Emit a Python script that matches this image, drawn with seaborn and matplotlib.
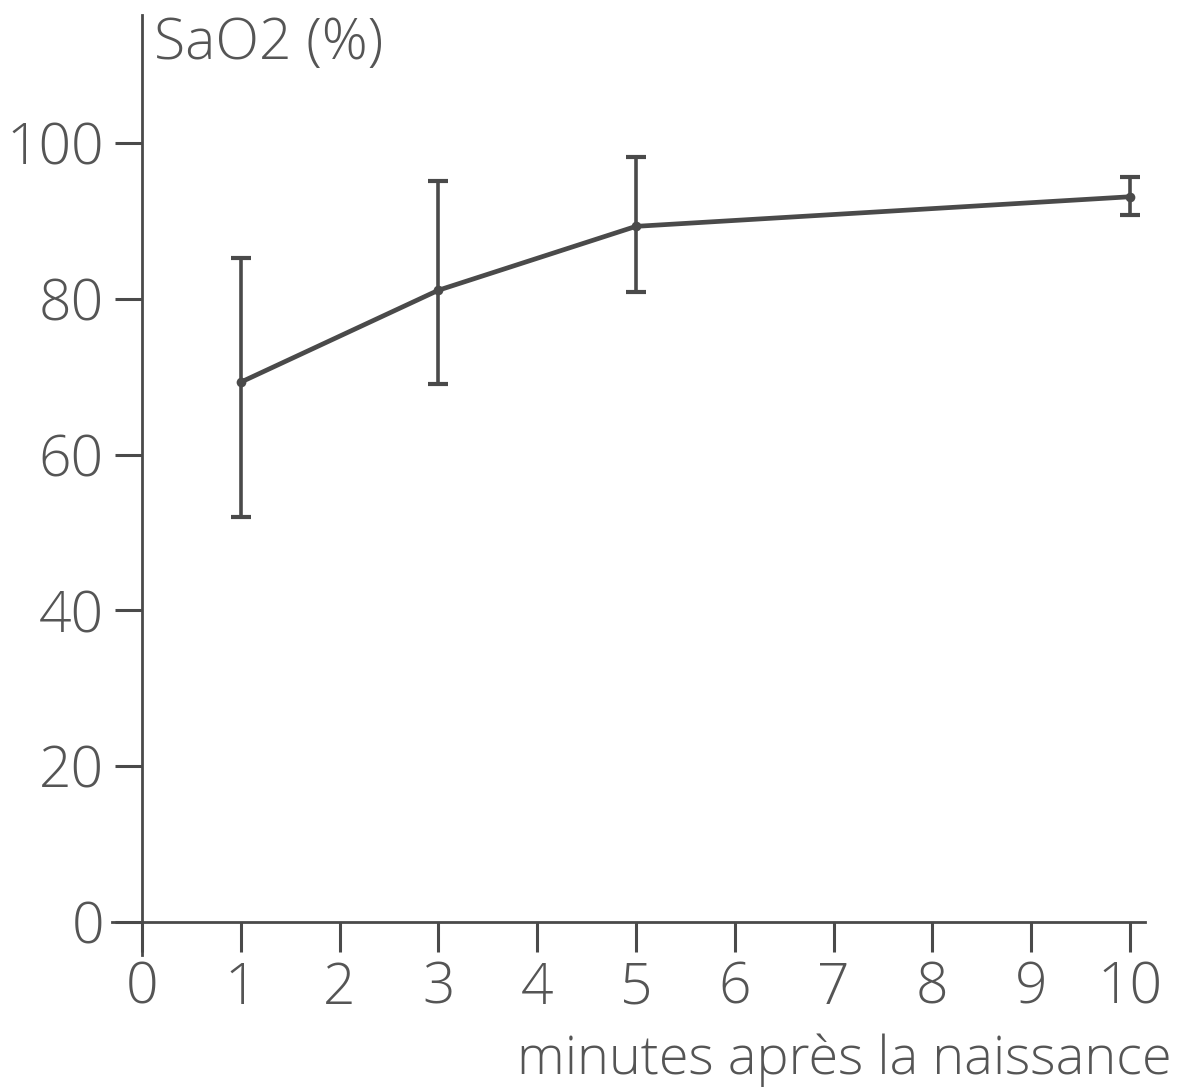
import matplotlib
matplotlib.use('Agg')
import matplotlib.pyplot as plt
import seaborn as sns
import pandas as pd

sns.set_style("white")
plt.rcParams['font.family'] = ['Open Sans', 'DejaVu Sans']

INK = "#4a4a4a"

# values
minutes = [1, 3, 5, 10]
sao2 = [69.3, 81.1, 89.3, 93.1]
err_low = [52.0, 69.1, 80.9, 90.8]
err_high = [85.2, 95.1, 98.2, 95.6]
x_ticks = [0, 1, 2, 3, 4, 5, 6, 7, 8, 9, 10]
y_ticks = [0, 20, 40, 60, 80, 100]

df = pd.DataFrame({"minutes": minutes, "sao2": sao2})

fig = plt.figure(figsize=(11.96, 10.9), dpi=100)
W, H = 1196, 1090
# axes box in pixels: left 112, right 1145, top 15, bottom 955
ax = fig.add_axes([112 / W, 1 - 955 / H, (1145 - 112) / W, (955 - 15) / H])

x0, x1 = (112 - 142) / 98.8, (1145 - 142) / 98.8
y0, y1 = (922 - 955) / 7.79, (922 - 15) / 7.79
ax.set_xlim(x0, x1)
ax.set_ylim(y0, y1)

yerr = [[s - lo for s, lo in zip(sao2, err_low)],
        [hi - s for s, hi in zip(sao2, err_high)]]
ax.errorbar(minutes, sao2, yerr=yerr, fmt='none', ecolor=INK,
            elinewidth=2.6, capsize=7.5, capthick=3)
sns.lineplot(data=df, x="minutes", y="sao2", ax=ax, color=INK,
             linewidth=3.4, marker='o', markersize=7, markeredgewidth=0)

for side in ['top', 'right']:
    ax.spines[side].set_visible(False)
ax.spines['left'].set_position(('data', 0))
ax.spines['bottom'].set_position(('data', 0))
for side in ['left', 'bottom']:
    ax.spines[side].set_color(INK)
    ax.spines[side].set_linewidth(2)

ax.set_xticks(x_ticks)
ax.set_yticks(y_ticks)
ax.tick_params(axis='both', colors=INK, labelcolor="#555555",
               labelsize=41, width=2.2, direction='out',
               bottom=True, left=True)
ax.tick_params(axis='y', length=19.5, pad=8)
ax.tick_params(axis='x', length=21.5, pad=6)
for lab in ax.get_xticklabels() + ax.get_yticklabels():
    lab.set_fontweight('light')

ax.set_xlabel("")
ax.set_ylabel("")
fig.text(154 / W, 1 - 44 / H, "SaO2 (%)", fontsize=41, color="#555555",
         ha='left', va='center', fontweight='light')
fig.text(1172 / W, 1 - 1060 / H, "minutes après la naissance", fontsize=39,
         color="#555555", ha='right', va='center', fontweight='light')

fig.savefig("out.png", dpi=100)
